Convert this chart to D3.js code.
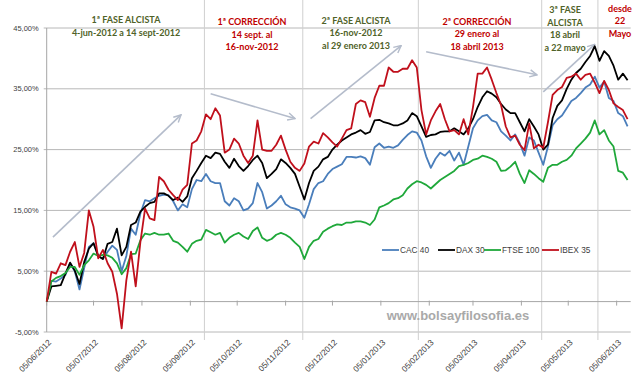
<!DOCTYPE html>
<html>
<head>
<meta charset="utf-8">
<script src="https://cdn.jsdelivr.net/npm/d3@7"></script>
<style>
  body { margin: 0; background: #fff; }
  svg { display: block; }
</style>
</head>
<body>
<svg id="chart" width="640" height="375"></svg>
<script>
// sample dates (every 3 days), values = % change since 05/06/2012
const dates = [
  "2012-06-05","2012-06-08","2012-06-11","2012-06-14","2012-06-17","2012-06-20","2012-06-23","2012-06-26","2012-06-29","2012-07-02",
  "2012-07-05","2012-07-08","2012-07-11","2012-07-14","2012-07-17","2012-07-20","2012-07-23","2012-07-26","2012-07-29","2012-08-01",
  "2012-08-04","2012-08-07","2012-08-10","2012-08-13","2012-08-16","2012-08-19","2012-08-22","2012-08-25","2012-08-28","2012-08-31",
  "2012-09-03","2012-09-06","2012-09-09","2012-09-12","2012-09-15","2012-09-18","2012-09-21","2012-09-24","2012-09-27","2012-09-30",
  "2012-10-03","2012-10-06","2012-10-09","2012-10-12","2012-10-15","2012-10-18","2012-10-21","2012-10-24","2012-10-27","2012-10-30",
  "2012-11-02","2012-11-05","2012-11-08","2012-11-11","2012-11-14","2012-11-17","2012-11-20","2012-11-23","2012-11-26","2012-11-29",
  "2012-12-02","2012-12-05","2012-12-08","2012-12-11","2012-12-14","2012-12-17","2012-12-20","2012-12-23","2012-12-26","2012-12-29",
  "2013-01-01","2013-01-04","2013-01-07","2013-01-10","2013-01-13","2013-01-16","2013-01-19","2013-01-22","2013-01-25","2013-01-28",
  "2013-01-31","2013-02-03","2013-02-06","2013-02-09","2013-02-12","2013-02-15","2013-02-18","2013-02-21","2013-02-24","2013-02-27",
  "2013-03-02","2013-03-05","2013-03-08","2013-03-11","2013-03-14","2013-03-17","2013-03-20","2013-03-23","2013-03-26","2013-03-29",
  "2013-04-01","2013-04-04","2013-04-07","2013-04-10","2013-04-13","2013-04-16","2013-04-19","2013-04-22","2013-04-25","2013-04-28",
  "2013-05-01","2013-05-04","2013-05-07","2013-05-10","2013-05-13","2013-05-16","2013-05-19","2013-05-22","2013-05-25","2013-05-28",
  "2013-05-31","2013-06-03","2013-06-06","2013-06-09","2013-06-12"
]

const cac40 = [
  0, 3.4, 3.3, 3.8, 4.4, 6.3, 5.0, 2.0, 5.5, 9.0, 9.6, 7.5, 7.0, 8.2, 9.2, 8.5, 5.0, 7.5, 12.0, 11.0,
  14.5, 16.7, 16.5, 17.0, 17.4, 17.6, 17.5, 16.5, 15.0, 16.0, 15.5,
  18.5, 20.0, 19.8, 21.0, 19.8, 19.5, 19.5, 16.5, 15.8, 17.0, 16.5, 15.0, 15.3, 16.2, 19.5, 18.0, 15.3, 15.8, 16.5,
  17.4, 16.0, 15.5, 15.3, 15.0, 13.8, 16.0, 18.5, 19.5, 19.8, 21.0, 21.8,
  22.2,
  22.6, 23.8, 23.8, 23.7, 23.9, 23.6, 22.5, 25.4, 26.0, 25.3, 25.5, 25.3, 25.7, 26.6, 27.4, 28.0, 27.8, 26.5, 23.9, 22.0,
  23.5, 24.5, 24.0, 24.8, 23.2, 24.5, 22.5, 25.5, 28.5, 29.8, 30.5,
  30.7, 29.8, 29.5, 28.0, 27.3, 26.5, 27.5, 26.0, 24.0, 27.0, 26.5, 24.5, 22.5, 25.5, 29.0, 30.0, 30.6, 31.8, 33.0, 33.5,
  34.3, 35.2, 35.7, 37.0, 35.2, 36.2, 33.5, 33.0, 31.0, 30.5, 28.8
]

const dax30 = [
  0, 2.5, 2.6, 2.7, 4.6, 6.4, 5.1, 2.9, 6.5, 8.7, 9.6, 7.5, 7.0, 9.5, 9.8, 12.0, 7.6, 9.0, 12.6, 13.0,
  14.8, 15.6, 16.2, 16.4, 17.8, 17.8, 17.4, 16.7, 17.1, 16.4, 17.3,
  20.3, 21.5, 22.8, 24.0, 23.6, 24.5, 24.3, 23.0, 22.0, 23.5, 22.3, 21.5, 22.3, 23.3, 24.0, 22.8, 20.3, 21.0, 21.8,
  23.4, 22.8, 22.0, 21.0, 18.9, 16.8, 19.5, 21.5, 22.2, 23.4, 23.8, 25.0,
  25.8,
  26.5, 27.0, 27.5, 27.8, 28.2, 27.6, 27.9, 29.8, 29.9, 29.5, 29.3, 29.0, 29.0, 29.3, 29.8, 31.0, 30.5, 28.8, 27.1, 27.4,
  27.5, 27.9, 28.0, 28.0, 28.5, 28.0, 27.5, 28.5, 30.0, 32.0, 33.6,
  34.6, 34.2, 33.6, 32.5, 31.6, 31.0, 31.0, 29.5, 28.0, 30.0, 28.8, 27.5, 25.0, 25.8, 30.2, 32.2, 33.1, 35.0, 36.5, 37.6,
  38.3, 39.4, 40.4, 42.0, 39.6, 41.2, 40.4, 38.8, 36.5, 37.5, 36.4
]

const ftse100 = [
  0, 3.3, 3.9, 4.2, 4.7, 5.7, 5.7, 4.4, 6.0, 6.8, 7.9, 7.5, 7.7, 7.6, 7.2, 6.3, 4.5, 5.5, 7.8, 7.9,
  10.1, 11.2, 11.0, 11.3, 11.0, 11.0, 11.2, 10.0, 9.7, 9.0, 8.2,
  9.5, 10.0, 10.2, 11.8, 11.4, 11.0, 11.3, 9.7, 10.5, 11.0, 11.3, 10.7, 10.3, 11.6, 12.2, 10.5, 10.0, 10.3, 11.0,
  11.3, 11.0, 10.5, 9.7, 9.0, 7.0, 9.0, 10.0, 10.3, 11.5, 12.0, 12.4,
  12.7,
  12.6, 13.0, 13.0, 13.2, 13.2, 13.0, 12.6, 13.5, 15.5, 15.8, 16.2, 16.8, 17.0, 17.5, 18.6, 19.3, 19.8, 19.6, 19.2, 18.6,
  19.3, 20.0, 20.5, 21.0, 21.5, 22.3, 22.5, 22.8, 23.3, 23.5, 24.0,
  23.8, 23.5, 23.0, 21.5, 21.6, 22.2, 23.0, 21.0, 19.5, 21.6, 21.0, 20.3, 19.7, 22.0, 22.5, 22.5, 23.0, 23.3, 24.0, 25.2,
  26.0, 26.8, 27.8, 29.8, 27.5, 28.2, 26.5, 25.5, 21.5, 21.2, 20.0
]

const ibex35 = [
  0, 4.9, 4.6, 6.3, 6.0, 8.2, 9.8, 5.7, 8.0, 15.0, 12.3, 7.1, 8.5, 6.3, 4.9, 1.3, -4.4, 3.5, 8.2, 2.5,
  9.8, 15.3, 13.7, 13.4, 20.5, 19.8, 18.4, 17.5, 16.7, 18.4, 19.2,
  26.0, 26.5, 28.0, 30.8, 30.0, 31.8, 30.6, 24.5, 25.0, 26.8, 26.0, 24.0, 22.8, 24.0, 29.8, 25.0, 24.8, 24.8, 25.8,
  27.3, 25.0, 23.0, 22.0, 21.5, 22.7, 25.5, 26.3, 26.0, 27.7, 27.0, 26.2,
  25.5,
  26.8, 28.2, 28.5, 32.5, 33.1, 32.8, 30.4, 33.5, 35.5, 35.5, 38.5, 37.8, 37.8, 38.3, 38.3, 39.7, 38.5, 31.5, 27.5, 29.8,
  31.3, 32.5, 30.0, 28.0, 28.2, 27.5, 30.0, 27.5, 32.0, 37.5, 37.5,
  38.5, 36.5, 34.3, 32.3, 28.8, 27.0, 27.3, 25.8, 24.9, 29.3, 25.2, 25.8, 25.3, 29.5, 34.0, 34.8, 35.3, 36.8, 37.0, 37.5,
  36.5, 37.3, 37.5, 36.0, 34.3, 36.3, 34.8, 32.6, 32.0, 31.5, 30.0
]

const seriesNames = ["CAC 40", "DAX 30", "FTSE 100", "IBEX 35"]
const seriesColors = ["#4a7ebb", "#000000", "#1fa83a", "#c0101c"]
const seriesValues = [cac40, dax30, ftse100, ibex35]

const yTicks = [-5, 5, 15, 25, 35, 45]
const monthTicks = [
  "2012-06-05","2012-07-05","2012-08-05","2012-09-05","2012-10-05","2012-11-05","2012-12-05",
  "2013-01-05","2013-02-05","2013-03-05","2013-04-05","2013-05-05","2013-06-05"
]
const phaseBreaks = ["2012-09-14", "2012-11-16", "2013-01-29", "2013-04-18", "2013-05-24"]

const olive = "#4f6228"
const darkRed = "#c00000"
const phaseNotes = [
  { lines: ["1ª FASE ALCISTA", "4-jun-2012 a 14 sept-2012"], x: 126, y: 23, color: olive },
  { lines: ["1ª CORRECCIÓN", "14 sept. al", "16-nov-2012"], x: 252, y: 25, color: darkRed },
  { lines: ["2ª FASE ALCISTA", "16-nov-2012", "al 29 enero 2013"], x: 356, y: 23.5, color: olive },
  { lines: ["2ª CORRECCIÓN", "29 enero al", "18 abril 2013"], x: 477, y: 24.5, color: darkRed },
  { lines: ["3ª FASE", "ALCISTA", "18 abril", "a 22 mayo"], x: 565, y: 13, color: olive },
  { lines: ["desde", "22", "Mayo"], x: 620, y: 11.5, color: darkRed }
]

// trend arrows, in (date, %) space
const trendArrows = [
  { from: ["2012-06-09", 10.6], to: ["2012-08-30", 30.7] },
  { from: ["2012-09-18", 34.2], to: ["2012-11-11", 30.1] },
  { from: ["2012-11-21", 30.1], to: ["2013-01-18", 42.1] },
  { from: ["2013-02-03", 41.1], to: ["2013-04-15", 37.3] },
  { from: ["2013-04-19", 34.5], to: ["2013-05-22", 42.3] }
]

const parse = d3.timeParse("%Y-%m-%d")
const fmtDate = d3.timeFormat("%d/%m/%Y")
const fmtPct = (v) => v.toFixed(2).replace(".", ",") + "%"

const svg = d3.select("#chart")
const plotLeft = 46.7, plotRight = 630.7, plotTop = 28, plotBottom = 332

const x = d3.scaleTime()
  .domain([parse("2012-06-05"), parse("2013-06-14")])
  .range([plotLeft, plotRight])
const y = d3.scaleLinear().domain([-5, 45]).range([plotBottom, plotTop])

const labelFont = "'Liberation Sans', Arial, sans-serif"
const noteFont = "Lato, 'Open Sans', sans-serif"

// horizontal gridlines
svg.append("g")
  .selectAll("line")
  .data(yTicks)
  .join("line")
  .attr("x1", plotLeft - 3)
  .attr("x2", plotRight)
  .attr("y1", (d) => y(d))
  .attr("y2", (d) => y(d))
  .attr("stroke", "#b8b8b8")
  .attr("stroke-width", 1)

// y labels
svg.append("g")
  .selectAll("text")
  .data(yTicks)
  .join("text")
  .attr("x", plotLeft - 8)
  .attr("y", (d) => y(d))
  .attr("dy", "0.35em")
  .attr("text-anchor", "end")
  .attr("font-family", labelFont)
  .attr("font-size", 7.5)
  .attr("fill", "#404040")
  .text(fmtPct)

// y axis line
svg.append("line")
  .attr("x1", plotLeft).attr("x2", plotLeft)
  .attr("y1", plotTop).attr("y2", plotBottom)
  .attr("stroke", "#a6a6a6")

// phase separators
svg.append("g")
  .selectAll("line")
  .data(phaseBreaks)
  .join("line")
  .attr("x1", (d) => x(parse(d)))
  .attr("x2", (d) => x(parse(d)))
  .attr("y1", 0)
  .attr("y2", 340)
  .attr("stroke", "#cfcfcf")
  .attr("stroke-width", 1)

// x axis at 0%
svg.append("line")
  .attr("x1", plotLeft).attr("x2", plotRight)
  .attr("y1", y(0)).attr("y2", y(0))
  .attr("stroke", "#a6a6a6")

const xTickG = svg.append("g")
xTickG.selectAll("line")
  .data(monthTicks)
  .join("line")
  .attr("x1", (d) => x(parse(d)))
  .attr("x2", (d) => x(parse(d)))
  .attr("y1", y(0) - 1)
  .attr("y2", y(0) + 4)
  .attr("stroke", "#a6a6a6")

xTickG.selectAll("text")
  .data(monthTicks)
  .join("text")
  .attr("transform", (d) => `translate(${x(parse(d)) + 3},${plotBottom + 9}) rotate(-45)`)
  .attr("dy", "0.35em")
  .attr("text-anchor", "end")
  .attr("font-family", labelFont)
  .attr("font-size", 8.3)
  .attr("fill", "#404040")
  .text((d) => fmtDate(parse(d)))

// watermark
svg.append("text")
  .attr("x", 458)
  .attr("y", 320)
  .attr("text-anchor", "middle")
  .attr("font-family", labelFont)
  .attr("font-weight", "bold")
  .attr("font-size", 13)
  .attr("fill", "#a9a9a9")
  .text("www.bolsayfilosofia.es")

// trend arrows
svg.append("defs")
  .append("marker")
  .attr("id", "arrowHead")
  .attr("viewBox", "0 0 10 10")
  .attr("refX", 9)
  .attr("refY", 5)
  .attr("markerWidth", 9)
  .attr("markerHeight", 9)
  .attr("markerUnits", "userSpaceOnUse")
  .attr("orient", "auto")
  .append("path")
  .attr("d", "M1,1 L9,5 L1,9")
  .attr("fill", "none")
  .attr("stroke", "#b4bccb")
  .attr("stroke-width", 1.6)

svg.append("g")
  .selectAll("line")
  .data(trendArrows)
  .join("line")
  .attr("x1", (d) => x(parse(d.from[0])))
  .attr("y1", (d) => y(d.from[1]))
  .attr("x2", (d) => x(parse(d.to[0])))
  .attr("y2", (d) => y(d.to[1]))
  .attr("stroke", "#b4bccb")
  .attr("stroke-width", 1.6)
  .attr("marker-end", "url(#arrowHead)")

// series lines
const rows = dates.map((d, i) => ({ date: parse(d), i }))
const line = d3.line()
  .x((d) => x(d.date))
  .y((d) => y(d.v))

svg.append("g")
  .selectAll("path")
  .data(seriesValues.map((vals, k) => ({ k, pts: rows.map((r) => ({ date: r.date, v: vals[r.i] })) })))
  .join("path")
  .attr("d", (d) => line(d.pts))
  .attr("fill", "none")
  .attr("stroke", (d) => seriesColors[d.k])
  .attr("stroke-width", 1.8)
  .attr("stroke-linejoin", "round")

// phase notes
const notes = svg.append("g")
notes.selectAll("text")
  .data(phaseNotes)
  .join("text")
  .attr("text-anchor", "middle")
  .attr("font-family", noteFont)
  .attr("font-weight", "bold")
  .attr("font-size", 9)
  .attr("fill", (d) => d.color)
  .each(function (d) {
    d3.select(this)
      .selectAll("tspan")
      .data(d.lines)
      .join("tspan")
      .attr("x", d.x)
      .attr("y", (t, j) => d.y + j * 12.7)
      .text((t) => t)
  })

// legend
const legendX = [382, 438, 484, 542]
const legend = svg.append("g")
  .selectAll("g")
  .data(seriesNames)
  .join("g")
  .attr("transform", (d, k) => `translate(${legendX[k]},250)`)
legend.append("line")
  .attr("x1", 0).attr("x2", 17)
  .attr("stroke", (d, k) => seriesColors[k])
  .attr("stroke-width", 1.8)
legend.append("text")
  .attr("x", 18)
  .attr("dy", "0.35em")
  .attr("font-family", labelFont)
  .attr("font-size", 8.3)
  .attr("fill", "#404040")
  .text((d) => d)
</script>
</body>
</html>
